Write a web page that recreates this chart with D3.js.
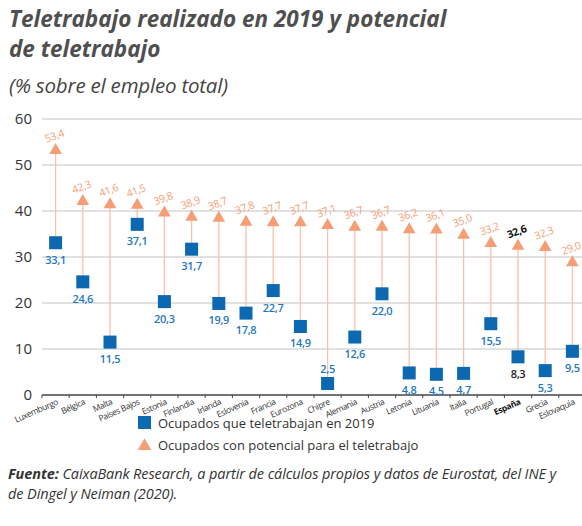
<!DOCTYPE html>
<meta charset="utf-8">
<html>
<head>
<script src="https://d3js.org/d3.v7.min.js"></script>
<style>
  body { margin: 0; background: #fff; }
  svg text { font-family: "Open Sans", "Noto Sans", sans-serif; }
</style>
</head>
<body>
<div id="chart"></div>
<script>
// data
var countries = ["Luxemburgo", "Bélgica", "Malta", "Países Bajos", "Estonia", "Finlandia", "Irlanda",
  "Eslovenia", "Francia", "Eurozona", "Chipre", "Alemania", "Austria", "Letonia", "Lituania",
  "Italia", "Portugal", "España", "Grecia", "Eslovaquia"];
var teletrabajo2019 = [33.1, 24.6, 11.5, 37.1, 20.3, 31.7, 19.9, 17.8, 22.7, 14.9, 2.5, 12.6, 22.0,
  4.8, 4.5, 4.7, 15.5, 8.3, 5.3, 9.5];
var potencial = [53.4, 42.3, 41.6, 41.5, 39.8, 38.9, 38.7, 37.8, 37.7, 37.7, 37.1, 36.7, 36.7,
  36.2, 36.1, 35.0, 33.2, 32.6, 32.3, 29.0];
var yTicks = [0, 10, 20, 30, 40, 50, 60];
var highlight = "España";

var W = 582, H = 526;
var blue = "#0b68b1", blueTxt = "#1f78c1", orange = "#f59e76", stem = "#f6c2aa";

var svg = d3.select("#chart").append("svg")
  .attr("width", W).attr("height", H);

var fmt = function (v) { return v.toFixed(1).replace(".", ","); };

var x = d3.scaleBand().domain(countries).range([42, 586]).padding(0);
var y = d3.scaleLinear().domain([0, 60]).range([395, 119]);

// title (two lines, one text element)
var title = svg.append("text")
  .style("font-size", "22.5px").style("font-weight", "bold").style("font-style", "italic")
  .style("fill", "#4f4f4f");
title.append("tspan").attr("x", 9).attr("y", 27).text("Teletrabajo realizado en 2019 y potencial");
title.append("tspan").attr("x", 9).attr("y", 57).text("de teletrabajo");
svg.append("text").attr("x", 9).attr("y", 93)
  .style("font-size", "20.5px").style("font-style", "italic").style("letter-spacing", "-0.2px")
  .style("fill", "#444").text("(% sobre el empleo total)");

// grid
svg.append("g").selectAll("line").data(yTicks.filter(function (d) { return d > 0; }))
  .enter().append("line")
  .attr("x1", 42).attr("x2", W)
  .attr("y1", function (d) { return y(d); }).attr("y2", function (d) { return y(d); })
  .style("stroke", "#c4c4c4").style("stroke-width", 1.2);

// y labels
svg.append("g").selectAll("text").data(yTicks).enter().append("text")
  .attr("x", 32).attr("y", function (d) { return y(d) + 5; })
  .attr("text-anchor", "end")
  .style("font-size", "15px").style("fill", "#333")
  .text(function (d) { return d; });

// x axis
var xAxis = svg.append("g").attr("transform", "translate(0," + y(0) + ")");
xAxis.append("line").attr("x1", 42).attr("x2", W).style("stroke", "#444").style("stroke-width", 1.3);
xAxis.selectAll(".tk").data(countries).enter().append("line")
  .attr("x1", function (d) { return x(d); }).attr("x2", function (d) { return x(d); })
  .attr("y1", 0).attr("y2", 3).style("stroke", "#444");
xAxis.selectAll(".lbl").data(countries).enter().append("text")
  .attr("transform", function (d) {
    return "translate(" + (x(d) + x.bandwidth() / 2 + 3) + ",9) rotate(-24)";
  })
  .attr("text-anchor", "end")
  .style("font-size", "8.5px").style("letter-spacing", "-0.4px")
  .style("font-weight", function (d) { return d === highlight ? "bold" : "normal"; })
  .style("fill", function (d) { return d === highlight ? "#111" : "#333"; })
  .text(function (d) { return d; });

var rows = countries.map(function (c, i) {
  return { c: c, a: teletrabajo2019[i], b: potencial[i] };
});
var cx = function (d) { return x(d.c) + x.bandwidth() / 2; };

// stems
svg.append("g").selectAll("line").data(rows).enter().append("line")
  .attr("x1", cx).attr("x2", cx)
  .attr("y1", function (d) { return y(d.a); })
  .attr("y2", function (d) { return y(d.b); })
  .style("stroke", stem).style("stroke-width", 1.3);

// triangles
var tri = d3.symbol().type(d3.symbolTriangle).size(70);
svg.append("g").selectAll("path").data(rows).enter().append("path")
  .attr("d", tri)
  .attr("transform", function (d) { return "translate(" + cx(d) + "," + (y(d.b) + 1) + ")"; })
  .style("fill", orange);

// squares
svg.append("g").selectAll("rect").data(rows).enter().append("rect")
  .attr("x", function (d) { return cx(d) - 6.5; })
  .attr("y", function (d) { return y(d.a) - 6.5; })
  .attr("width", 13).attr("height", 13)
  .style("fill", blue);

// orange labels
svg.append("g").selectAll("text").data(rows).enter().append("text")
  .attr("transform", function (d) {
    return "translate(" + cx(d) + "," + (y(d.b) - 10) + ") rotate(-20)";
  })
  .attr("text-anchor", "middle")
  .style("font-size", "10.5px").style("letter-spacing", "-0.3px")
  .style("fill", function (d) { return d.c === highlight ? "#111" : orange; })
  .style("font-weight", function (d) { return d.c === highlight ? "bold" : "normal"; })
  .text(function (d) { return fmt(d.b); });

// blue labels
svg.append("g").selectAll("text").data(rows).enter().append("text")
  .attr("x", cx)
  .attr("y", function (d) { return d.c === "Chipre" ? y(d.a) - 11 : y(d.a) + 21; })
  .attr("text-anchor", "middle")
  .style("font-size", "11px").style("font-weight", "600").style("letter-spacing", "-0.3px")
  .style("fill", function (d) { return d.c === highlight ? "#222" : blueTxt; })
  .text(function (d) { return fmt(d.a); });

// legend
var lg = svg.append("g");
lg.append("rect").attr("x", 138).attr("y", 416).attr("width", 13).attr("height", 13).style("fill", blue);
lg.append("text").attr("x", 158).attr("y", 428).style("font-size", "13px").style("fill", "#333")
  .text("Ocupados que teletrabajan en 2019");
lg.append("path").attr("d", d3.symbol().type(d3.symbolTriangle).size(80))
  .attr("transform", "translate(144.5,446)").style("fill", orange);
lg.append("text").attr("x", 158).attr("y", 450).style("font-size", "13px").style("fill", "#333")
  .text("Ocupados con potencial para el teletrabajo");

// source
var src = svg.append("text").attr("x", 8).attr("y", 479)
  .style("font-size", "14.5px").style("font-style", "italic").style("fill", "#333")
  .style("letter-spacing", "-0.1px");
src.append("tspan").style("font-weight", "bold").text("Fuente:");
src.append("tspan").text(" CaixaBank Research, a partir de cálculos propios y datos de Eurostat, del INE y");
svg.append("text").attr("x", 8).attr("y", 499)
  .style("font-size", "14.5px").style("font-style", "italic").style("fill", "#333")
  .style("letter-spacing", "-0.1px")
  .text("de Dingel y Neiman (2020).");
</script>
</body>
</html>
